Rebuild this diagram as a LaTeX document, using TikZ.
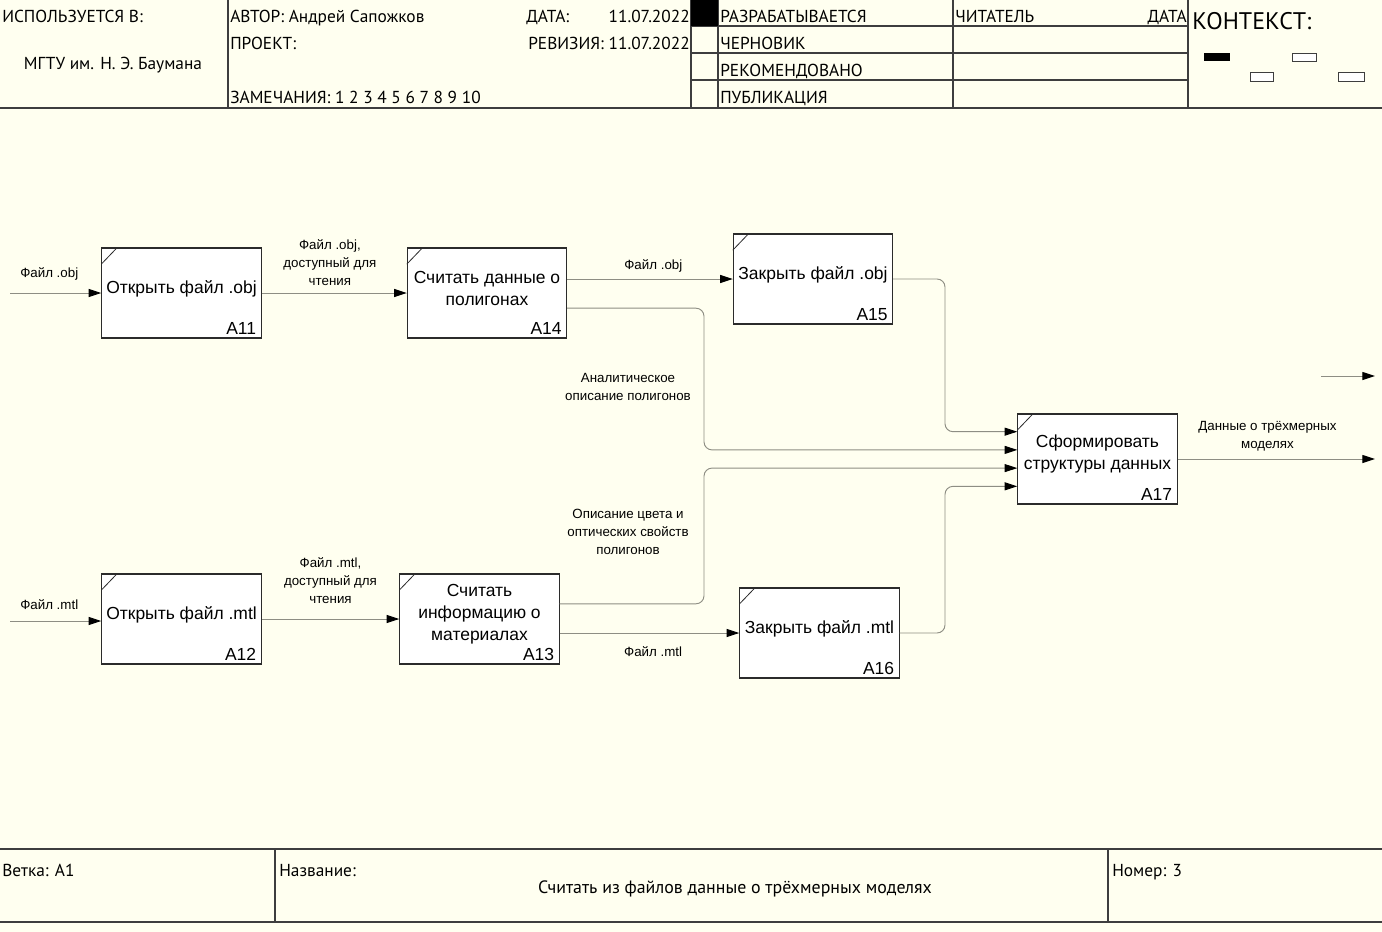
\documentclass[tikz,border=0pt]{standalone}
\usepackage{fontspec}
\setmainfont{Liberation Sans}
\newfontfamily\formfont{PT Sans}
\usetikzlibrary{arrows.meta,calc,positioning}
\definecolor{paper}{HTML}{FFFFF0}
\definecolor{ink}{HTML}{000000}
\definecolor{formink}{HTML}{3E3E3E}
\definecolor{flowline}{HTML}{8E8E84}
\definecolor{boxline}{HTML}{2B2B2B}

\begin{document}
\begin{tikzpicture}[
    x=0.75pt, y=-0.75pt,
    formtext/.style={font=\formfont\fontsize{13}{15}\selectfont, inner sep=0pt, anchor=base west},
    formline/.style={draw=formink, line width=0.8pt},
    fn/.style={draw=boxline, fill=white, line width=0.8pt, minimum width=119.5pt, minimum height=67.5pt, inner sep=0pt},
    fntext/.style={align=center, inner sep=0pt, font=\fontsize{13.1}{16.5}\selectfont},
    fnum/.style={anchor=south east, inner xsep=4pt, inner ysep=3pt, font=\fontsize{13.1}{16.5}\selectfont},
    flow/.style={draw=flowline, line width=0.7pt, rounded corners=6pt, -{Triangle[length=9.5pt,width=6pt,color=ink]}},
    lbl/.style={font=\fontsize{10}{13.5}\selectfont, align=center, inner sep=2pt},
  ]
\useasboundingbox (0,0) rectangle (1382,932);
\fill[paper] (0,0) rectangle (1382,932);

% --- Header of the form --------------------------------------------------------------
\draw[formline] (228,0) -- (228,108);
\foreach \x in {691,718,953,1188} {
  \draw[formline] (\x,0) -- (\x,108);
}
\foreach \y in {26,53,80} {
  \draw[formline] (691,\y) -- (1188,\y);
}
\fill[ink] (691,0) rectangle (718,26);
\draw[formline, line width=1.6pt] (0,108) -- (1382,108);

\node[formtext] (usedIn) at (2,22) {ИСПОЛЬЗУЕТСЯ В:};
\node[formtext, anchor=base] (org) at (113,69) {МГТУ им. Н. Э. Баумана};
\node[formtext] (author) at (230,22) {АВТОР: Андрей Сапожков};
\node[formtext] (project) at (230,49) {ПРОЕКТ:};
\node[formtext] (notes) at (230,103) {ЗАМЕЧАНИЯ: 1 2 3 4 5 6 7 8 9 10};
\node[formtext] (dateKey) at (526,22) {ДАТА:};
\node[formtext, anchor=base east] (dateVal) at (690,22) {11.07.2022};
\node[formtext, anchor=base east] (rev) at (690,49) {РЕВИЗИЯ: 11.07.2022};
\foreach \k/\txt in {0/РАЗРАБАТЫВАЕТСЯ, 1/ЧЕРНОВИК, 2/РЕКОМЕНДОВАНО, 3/ПУБЛИКАЦИЯ} {
  \node[formtext] (st\k) at (720,22+27*\k) {\txt};
}
\node[formtext] (reader) at (955,22) {ЧИТАТЕЛЬ};
\node[formtext, anchor=base east] (readerDate) at (1187,22) {ДАТА};
\node[formtext, font=\formfont\fontsize{18}{20}\selectfont] (ctx) at (1192,29) {КОНТЕКСТ:};
\fill[ink] (1204,53) rectangle (1230,61);
\draw[formline, fill=white, line width=0.6pt] (1292,53) rectangle (1316,61);
\draw[formline, fill=white, line width=0.6pt] (1250,72) rectangle (1273,81);
\draw[formline, fill=white, line width=0.6pt] (1338,72) rectangle (1364,81);

% --- Footer of the form --------------------------------------------------------------
\draw[formline, line width=1.6pt] (0,849) -- (1382,849);
\draw[formline, line width=1.6pt] (0,922) -- (1382,922);
\draw[formline] (275,849) -- (275,922);
\draw[formline] (1108,849) -- (1108,922);
\node[formtext] (branch) at (2,876) {Ветка: A1};
\node[formtext] (nameKey) at (279,876) {Название:};
\node[formtext, anchor=base, font=\formfont\fontsize{13.4}{15}\selectfont] (title) at (735,893) {Считать из файлов данные о трёхмерных моделях};
\node[formtext] (number) at (1112,876) {Номер: 3};

% --- Functions --------------------------------------------------------------------------
\foreach \id/\cx/\cy/\txt in {
    A11/181.5/293/{Открыть файл .obj},
    A14/487/293/{Считать данные о\\полигонах},
    A15/813/279/{Закрыть файл .obj},
    A12/181.5/619/{Открыть файл .mtl},
    A13/479.5/619/{Считать\\информацию о\\материалах},
    A16/819.5/633/{Закрыть файл .mtl},
    A17/1097.5/459/{Сформировать\\структуры данных}} {
  \node[fn] (\id) at (\cx,\cy) {};
  \node[fntext] (\id-t) at ([yshift=3.5pt]\id.center) {\txt};
  \node[fnum] (\id-n) at (\id.south east) {\id};
  \draw[boxline, line width=0.6pt] ([yshift=-12.5pt]\id.north west) -- ([xshift=12pt]\id.north west);
}

% --- Arrows ------------------------------------------------------------------------------
\coordinate (objIn) at (10,293);
\coordinate (mtlIn) at (10,621);
\coordinate (outEnd) at (1375,459);
\coordinate (strayA) at (1321,376);
\coordinate (strayB) at (1375,376);
\coordinate (busL) at (704,0);
\coordinate (busR) at (945,0);
\foreach \k/\f in {1/0.2, 2/0.4, 3/0.6, 4/0.8} {
  \coordinate (in\k) at ($(A17.north west)!\f!(A17.south west)$);
}
\coordinate (A14out) at ($(A14.north east)!0.667!(A14.south east)$);
\coordinate (A13out) at ($(A13.north east)!0.333!(A13.south east)$);

\draw[flow] (objIn) -- node[lbl, above=7pt, pos=0.43] (lObjIn) {Файл .obj} (A11);
\draw[flow] (A11) -- node[lbl, above=3.5pt, pos=0.47] (lObjRead) {Файл .obj,\\доступный для\\чтения} (A14);
\draw[flow] (A14.east |- A15) -- node[lbl, above=3pt, pos=0.52] (lObjClose) {Файл .obj} (A15);
\draw[flow] (A14out) -- (A14out -| busL) -- (busL |- in2) -- (in2);
\draw[flow] (A15.east) -- (A15.east -| busR) -- (busR |- in1) -- (in1);

\draw[flow] (mtlIn) -- node[lbl, above=6pt, pos=0.43] (lMtlIn) {Файл .mtl} (mtlIn -| A12.west);
\draw[flow] (A12) -- node[lbl, above=9pt, pos=0.5] (lMtlRead) {Файл .mtl,\\доступный для\\чтения} (A13);
\draw[flow] (A13.east |- A16) -- node[lbl, below=8pt, pos=0.52] (lMtlClose) {Файл .mtl} (A16);
\draw[flow] (A13out) -- (A13out -| busL) -- (busL |- in3) -- (in3);
\draw[flow] (A16.east) -- (A16.east -| busR) -- (busR |- in4) -- (in4);

\draw[flow] (A17) -- node[lbl, above=3.5pt, pos=0.455] (lModels) {Данные о трёхмерных\\моделях} (outEnd);
\draw[flow] (strayA) -- (strayB);

\node[lbl] (lPoly) at (628,387) {Аналитическое\\описание полигонов};
\node[lbl] (lColor) at (628,532) {Описание цвета и\\оптических свойств\\полигонов};

\end{tikzpicture}
\end{document}
